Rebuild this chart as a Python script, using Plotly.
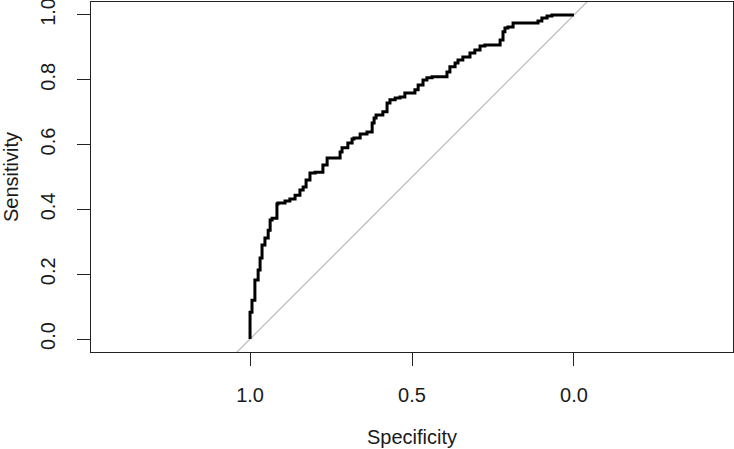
import plotly.graph_objects as go

# ROC curve points (specificity, sensitivity)
specificity = [1.000, 0.994, 0.985, 0.975, 0.969, 0.963, 0.954, 0.944, 0.938, 0.932,
               0.917, 0.914, 0.892, 0.877, 0.861, 0.846, 0.836, 0.827, 0.815, 0.799,
               0.775, 0.762, 0.759, 0.722, 0.716, 0.698, 0.685, 0.679, 0.660, 0.639,
               0.623, 0.617, 0.611, 0.590, 0.577, 0.568, 0.552, 0.537, 0.522, 0.512,
               0.491, 0.481, 0.466, 0.454, 0.438, 0.420, 0.392, 0.383, 0.367, 0.358,
               0.343, 0.321, 0.306, 0.290, 0.275, 0.228, 0.219, 0.213, 0.204, 0.188,
               0.167, 0.111, 0.099, 0.083, 0.068, 0.034, 0.000]
sensitivity = [0.000, 0.083, 0.120, 0.182, 0.213, 0.250, 0.290, 0.312, 0.336, 0.367,
               0.373, 0.417, 0.420, 0.426, 0.432, 0.444, 0.460, 0.469, 0.491, 0.512,
               0.515, 0.537, 0.559, 0.559, 0.577, 0.590, 0.605, 0.617, 0.620, 0.633,
               0.639, 0.667, 0.682, 0.691, 0.701, 0.728, 0.738, 0.744, 0.747, 0.759,
               0.759, 0.769, 0.784, 0.799, 0.806, 0.809, 0.809, 0.824, 0.840, 0.852,
               0.861, 0.870, 0.883, 0.892, 0.904, 0.907, 0.923, 0.948, 0.960, 0.963,
               0.975, 0.975, 0.981, 0.991, 0.997, 1.000, 1.000]

x_ticks = [1.0, 0.5, 0.0]
y_ticks = [0.0, 0.2, 0.4, 0.6, 0.8, 1.0]
x_range = [1.491, -0.491]
y_range = [-0.040, 1.040]

FONT = "Liberation Sans, Arial, sans-serif"
TXT = "#1a1a1a"

fig = go.Figure()

# identity (chance) line: sensitivity = 1 - specificity
diag_x = [x_range[0], x_range[1]]
diag_y = [1 - v for v in diag_x]
fig.add_trace(go.Scatter(x=diag_x, y=diag_y, mode="lines",
                         line=dict(color="#bcbcbc", width=1.3), hoverinfo="skip",
                         showlegend=False))

fig.add_trace(go.Scatter(x=specificity, y=sensitivity, mode="lines",
                         line=dict(color="black", width=3, shape="vh"),
                         showlegend=False))

fig.update_layout(
    width=734, height=449,
    margin=dict(l=91, r=1, t=2, b=97),
    paper_bgcolor="white", plot_bgcolor="white",
    font=dict(family=FONT, size=20, color=TXT),
)
fig.update_xaxes(
    range=x_range, tickvals=x_ticks, tickformat=".1f", automargin=False,
    showgrid=False, zeroline=False,
    showline=True, linecolor="#222", linewidth=1, mirror=True,
    ticks="outside", ticklen=13, tickcolor="#222", tickwidth=1,
    ticklabelstandoff=12, ticklabeloverflow="allow",
    title=dict(text="Specificity", standoff=24, font=dict(size=20, color=TXT)),
)
fig.update_yaxes(
    range=y_range, tickvals=y_ticks, tickformat=".1f", tickangle=-90, automargin=False,
    showgrid=False, zeroline=False,
    showline=True, linecolor="#222", linewidth=1, mirror=True,
    ticks="outside", ticklen=13, tickcolor="#222", tickwidth=1,
    ticklabelstandoff=14, ticklabeloverflow="allow",
    title=dict(text="Sensitivity", standoff=14, font=dict(size=20, color=TXT)),
)

fig.write_html(
    "out.html",
    config={"displayModeBar": False},
    post_script="document.body.style.margin='0';document.body.style.padding='0';",
)
